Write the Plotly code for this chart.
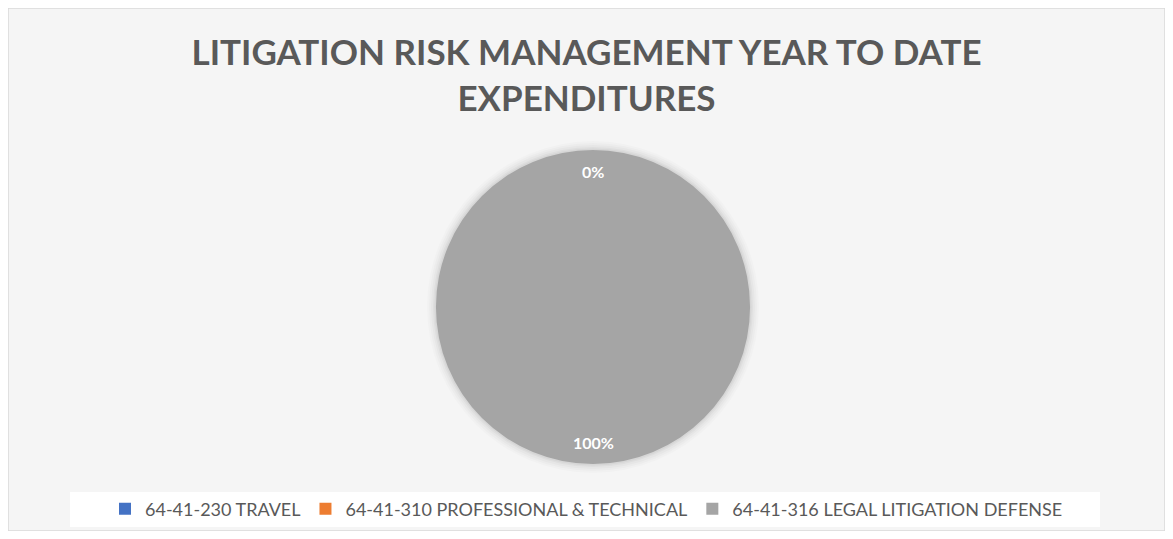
import math
import plotly.graph_objects as go

categories = ["64-41-230 TRAVEL", "64-41-310 PROFESSIONAL & TECHNICAL", "64-41-316 LEGAL LITIGATION DEFENSE"]
values = [0, 0, 100]
colors = ["#4472C4", "#ED7D31", "#A5A5A5"]
title_text = "LITIGATION RISK MANAGEMENT YEAR TO DATE<br>EXPENDITURES"

# figure sits inside the page's 8px body margin
W, H = 1157, 523

# pie geometry in figure pixels
CX, CY, R = 585, 299, 157
dom_x = [(CX - R) / W, (CX + R) / W]
dom_y = [(H - CY - R) / H, (H - CY + R) / H]

fig = go.Figure()
fig.add_trace(go.Pie(
    labels=categories,
    values=values,
    marker=dict(colors=colors, line=dict(width=0)),
    sort=False,
    direction="clockwise",
    rotation=0,
    textinfo="none",
    showlegend=True,
    domain=dict(x=dom_x, y=dom_y),
    hoverinfo="label+percent",
))

# data labels placed Excel-style at each slice's mid angle
total = sum(values)
annotations = []
cum = 0.0
seen = set()
for v in values:
    frac = v / total
    mid = (cum + frac / 2) * 2 * math.pi
    cum += frac
    px = CX + 0.865 * R * math.sin(mid)
    py = CY - 0.865 * R * math.cos(mid)
    key = (round(px), round(py))
    if key in seen:
        continue
    seen.add(key)
    annotations.append(dict(
        x=px / W, y=1 - py / H, xref="paper", yref="paper",
        text=f"{frac:.0%}", showarrow=False,
        xanchor="center", yanchor="middle",
        font=dict(family="Lato", size=16, color="white", weight="bold"),
    ))

shapes = []
# soft shadow around the pie
for k, a in [(9, 0.015), (7, 0.02), (5, 0.025), (3, 0.03), (1.5, 0.035)]:
    shapes.append(dict(type="circle", xref="paper", yref="paper",
                       x0=(CX - R - k) / W, x1=(CX + R + k) / W,
                       y0=(H - CY - R - k) / H, y1=(H - CY + R + k) / H,
                       line=dict(width=0), fillcolor=f"rgba(0,0,0,{a})",
                       layer="below"))
# legend area
shapes.append(dict(type="rect", xref="paper", yref="paper",
                   x0=62 / W, x1=1092 / W, y0=1 - 519 / H, y1=1 - 484 / H,
                   line=dict(width=0), fillcolor="white", layer="below"))
# chart border
shapes.append(dict(type="rect", xref="paper", yref="paper",
                   x0=0, x1=1, y0=0, y1=1,
                   line=dict(color="#d9d9d9", width=1.5), layer="above"))

fig.update_layout(
    width=W, height=H,
    margin=dict(l=0, r=0, t=0, b=0),
    paper_bgcolor="#f5f5f5",
    plot_bgcolor="#f5f5f5",
    title=dict(
        text=title_text,
        x=0.5, xanchor="center",
        y=1 - 57 / H, yanchor="top",
        font=dict(family="Lato", size=35, color="#595959", weight="bold"),
    ),
    legend=dict(
        orientation="h",
        x=0.5, xanchor="center",
        y=1 - 501 / H, yanchor="middle",
        bgcolor="rgba(0,0,0,0)",
        font=dict(family="Lato", size=18, color="#595959"),
        itemwidth=30,
        traceorder="normal",
    ),
    annotations=annotations,
    shapes=shapes,
)

fig.write_html("out.html")
